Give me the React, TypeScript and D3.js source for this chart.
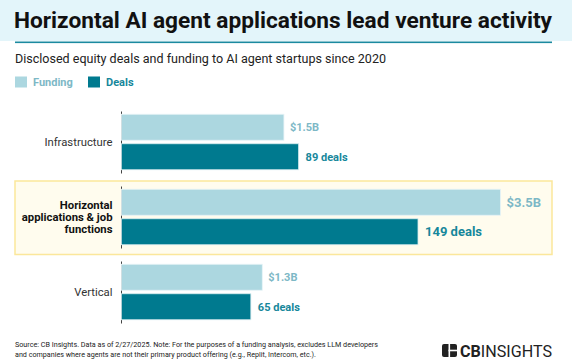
import React from "react";
import * as d3 from "d3";

const categories = ["Infrastructure", "Horizontal applications & job functions", "Vertical"];
const categoryLines = [["Infrastructure"], ["Horizontal", "applications & job", "functions"], ["Vertical"]];
const series = ["Funding", "Deals"];
const fundingValues = [1.5, 3.5, 1.3];
const dealValues = [89, 149, 65];
const fundingLabels = ["$1.5B", "$3.5B", "$1.3B"];
const dealLabels = ["89 deals", "149 deals", "65 deals"];
const highlighted = "Horizontal applications & job functions";

const W = 572;
const H = 364;
const FONT = "Roboto, 'Noto Sans', sans-serif";

const colors = {
  funding: "#acd7e0",
  deals: "#007a8f",
  fundingText: "#7db8c6",
  dealsText: "#16879b",
  titleBg: "#e3f5fa",
  rule: "#1b8aa0",
  boxFill: "#fffcee",
  boxStroke: "#fbe79b",
};

export default function App() {
  const y = d3.scaleBand<string>().domain(categories).range([104.5, 329.5]).padding(0);
  const inner = d3.scaleBand<string>().domain(series).range([-27.75, 27.75]).paddingInner(0.12);
  const xF = d3.scaleLinear().domain([0, 3.5]).range([121.5, 500.5]);
  const xD = d3.scaleLinear().domain([0, 149]).range([121.5, 418]);

  const center = (c: string) => (y(c) as number) + y.bandwidth() / 2;

  return (
    <div style={{ position: "absolute", left: 0, top: 0 }}>
      <svg width={W} height={H} style={{ display: "block", fontFamily: FONT }}>
        <rect x={0} y={0} width={W} height={H} fill="#fff" />
        {/* header */}
        <rect x={0} y={0} width={W} height={41} fill={colors.titleBg} />
        <text x={14} y={28} fontSize={22.5} fontWeight={700} fill="#111" textLength={538} lengthAdjust="spacingAndGlyphs">
          Horizontal AI agent applications lead venture activity
        </text>
        <rect x={15} y={41.5} width={537} height={1.6} fill={colors.rule} />
        <text x={15} y={63} fontSize={12.5} fill="#222" textLength={371} lengthAdjust="spacingAndGlyphs">
          Disclosed equity deals and funding to AI agent startups since 2020
        </text>

        {/* legend */}
        <rect x={15} y={76.5} width={12} height={11} fill={colors.funding} />
        <text x={33} y={86} fontSize={11} fontWeight={700} fill={colors.fundingText}>
          Funding
        </text>
        <rect x={88} y={76.5} width={12} height={11} fill={colors.deals} />
        <text x={106} y={86} fontSize={11} fontWeight={700} fill={colors.dealsText}>
          Deals
        </text>

        {/* highlight box */}
        <rect
          x={15}
          y={(y(highlighted) as number) + 1.5}
          width={537}
          height={y.bandwidth() - 1.5}
          fill={colors.boxFill}
          stroke={colors.boxStroke}
          strokeWidth={1.5}
        />

        {categories.map((c, i) => {
          const cy = center(c);
          const hi = c === highlighted;
          const fy = cy + (inner("Funding") as number);
          const dy = cy + (inner("Deals") as number);
          const bh = inner.bandwidth();
          const lines = categoryLines[i];
          const lh = 12.4;
          const vs = hi ? 13 : 11;
          return (
            <g key={c}>
              <line x1={121.5} x2={121.5} y1={cy - 30.5} y2={cy + 31.5} stroke="#444" strokeWidth={1} />
              <rect x={xF(0)} y={fy} width={xF(fundingValues[i]) - xF(0)} height={bh} fill={colors.funding} stroke="#e6f3f6" strokeWidth={0.8} />
              <rect x={xD(0)} y={dy} width={xD(dealValues[i]) - xD(0)} height={bh} fill={colors.deals} stroke="#d5eaee" strokeWidth={0.8} />
              <text x={xF(fundingValues[i]) + 6} y={fy + bh / 2 + vs * 0.36} fontSize={vs} fontWeight={700} fill={colors.fundingText}>
                {fundingLabels[i]}
              </text>
              <text x={xD(dealValues[i]) + 7} y={dy + bh / 2 + vs * 0.36} fontSize={vs} fontWeight={700} fill={colors.dealsText}>
                {dealLabels[i]}
              </text>
              <text textAnchor="end" fontSize={11.3} fontWeight={hi ? 700 : 400} fill={hi ? "#111" : "#333"}>
                {lines.map((l, k) => (
                  <tspan key={k} x={112.5} y={cy + 4 + (k - (lines.length - 1) / 2) * lh}>
                    {l}
                  </tspan>
                ))}
              </text>
            </g>
          );
        })}

        {/* footer */}
        <text x={15} y={347} fontSize={7.3} fill="#222" textLength={363} lengthAdjust="spacingAndGlyphs">
          Source: CB Insights. Data as of 2/27/2025. Note: For the purposes of a funding analysis, excludes LLM developers
        </text>
        <text x={15} y={356.5} fontSize={7.3} fill="#222" textLength={301} lengthAdjust="spacingAndGlyphs">
          and companies where agents are not their primary product offering (e.g., Replit, Intercom, etc.).
        </text>

        {/* logo */}
        <g transform="translate(442,344)">
          <rect x={0} y={0} width={15} height={13} rx={2} fill="#222" />
          <rect x={6.5} y={0} width={1.6} height={13} fill="#fff" />
          <rect x={6.5} y={5.7} width={8.5} height={1.6} fill="#fff" />
          <text x={18} y={13} fontSize={17} fill="#222" textLength={92} lengthAdjust="spacingAndGlyphs">
            <tspan fontWeight={700}>CB</tspan>
            <tspan fontWeight={400}>INSIGHTS</tspan>
          </text>
        </g>
      </svg>
    </div>
  );
}
